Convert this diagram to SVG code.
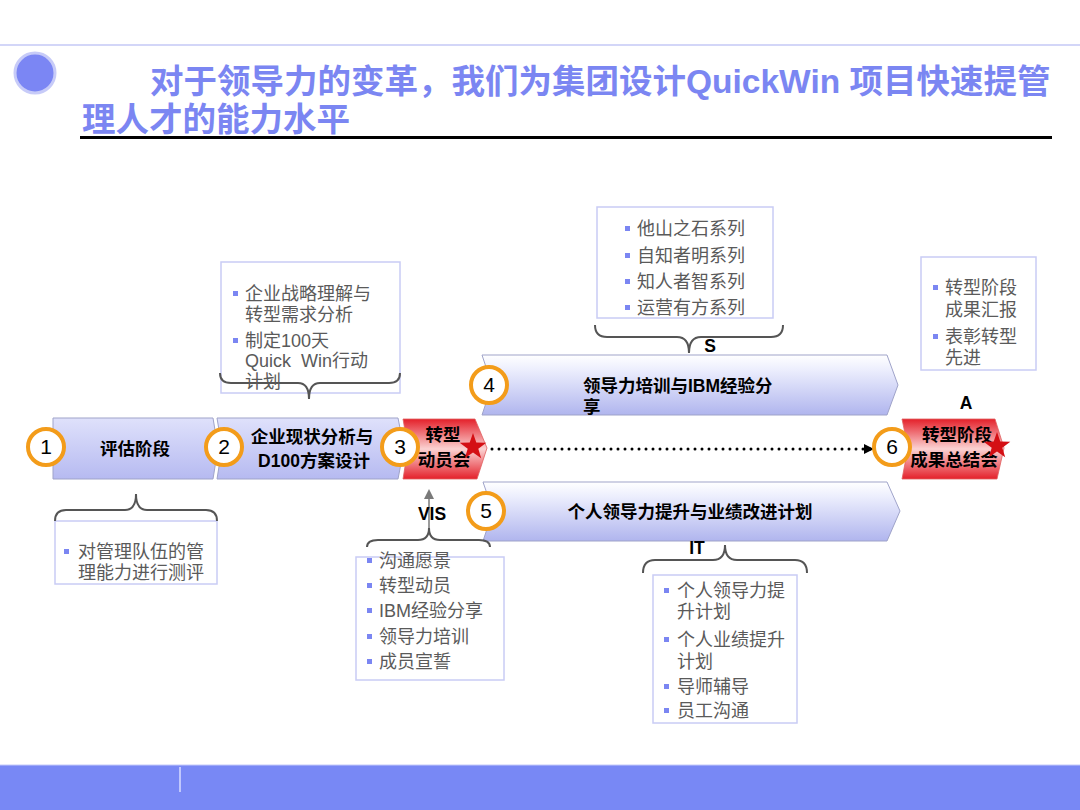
<svg xmlns="http://www.w3.org/2000/svg" width="1080" height="810" viewBox="0 0 1080 810">
<defs>
<linearGradient id="gLav" x1="0" y1="0" x2="0" y2="1">
<stop offset="0" stop-color="#dfe1fb"/><stop offset="1" stop-color="#b6baf1"/>
</linearGradient>
<linearGradient id="gLav2" x1="0" y1="0" x2="0" y2="1">
<stop offset="0" stop-color="#ffffff"/><stop offset="0.25" stop-color="#eceefd"/><stop offset="1" stop-color="#b0b5ee"/>
</linearGradient>
<linearGradient id="gRed" x1="0" y1="0" x2="0" y2="1">
<stop offset="0" stop-color="#e4202a"/><stop offset="0.5" stop-color="#fbd2d2"/><stop offset="1" stop-color="#e4202a"/>
</linearGradient>
<marker id="arrBlk" markerWidth="10" markerHeight="10" refX="9" refY="5" orient="auto" markerUnits="userSpaceOnUse">
<path d="M0,0 L10,5 L0,10 Z" fill="#000"/>
</marker>
<polygon id="star" points="0,-14 3.3,-4.5 13.3,-4.3 5.3,1.7 8.2,11.3 0,5.6 -8.2,11.3 -5.3,1.7 -13.3,-4.3 -3.3,-4.5"/>
</defs>
<style>
.title{font-family:"Liberation Sans","Noto Sans CJK SC",sans-serif;font-weight:bold;font-size:33.5px;fill:#7b86f2}
.lab{font-family:"Liberation Sans","Noto Sans CJK SC",sans-serif;font-weight:bold;font-size:17.5px;fill:#000}
.num{font-family:"Liberation Sans","Noto Sans CJK SC",sans-serif;font-size:21px;fill:#000;text-anchor:middle}
.circ{fill:#fff;stroke:#f39c1a;stroke-width:4}
.body{font-family:"Liberation Sans","Noto Sans CJK SC",sans-serif;font-size:18px;fill:#5a5a5a}
.box{fill:#fff;stroke:#c9ccf5;stroke-width:1.5}
.bul{fill:#7b86f2}
.brace{fill:none;stroke:#555;stroke-width:2}
.chev{stroke:#9fa3c9;stroke-width:1}
.mid{text-anchor:middle}
</style>

<!-- header -->
<line x1="0" y1="45" x2="1080" y2="45" stroke="#d3d6f8" stroke-width="2"/>
<circle cx="35" cy="73" r="20" fill="#7b86f4" stroke="#c7cbf8" stroke-width="3"/>
<text class="title" x="150" y="93">对于领导力的变革，我们为集团设计QuickWin 项目快速提管</text>
<text class="title" x="82" y="131">理人才的能力水平</text>
<line x1="80" y1="137.5" x2="1052" y2="137.5" stroke="#000" stroke-width="3"/>

<!-- footer -->
<rect x="0" y="765" width="1080" height="45" fill="#7888f5"/>
<line x1="0" y1="765" x2="1080" y2="765" stroke="#c3c9fa" stroke-width="1"/>
<line x1="180" y1="767" x2="180" y2="792" stroke="#d8dcff" stroke-width="1.5"/>

<!-- connectors -->
<g id="connectors">
<line x1="492" y1="449" x2="873" y2="449" stroke="#000" stroke-width="3" stroke-linecap="round" stroke-dasharray="0 7" marker-end="url(#arrBlk)"/>
<line x1="429" y1="528" x2="429" y2="497" stroke="#7a7a7a" stroke-width="1.5"/>
<polygon points="424,499 429,489 434,499" fill="#7a7a7a"/>
</g>

<!-- node 1 -->
<g id="node1">
<polygon class="chev" fill="url(#gLav)" points="53,418 213,418 218,448 213,479 53,479"/>
<text class="lab mid" x="135" y="455">评估阶段</text>
<circle class="circ" cx="46" cy="447" r="18"/>
<text class="num" x="46" y="454">1</text>
</g>

<!-- node 2 -->
<g id="node2">
<polygon class="chev" fill="url(#gLav)" points="217,418 398,418 404,448 398,479 217,479 222,448"/>
<text class="lab mid" x="312" y="443">企业现状分析与</text>
<text class="lab mid" x="314" y="467">D100方案设计</text>
<circle class="circ" cx="224" cy="447" r="18"/>
<text class="num" x="224" y="454">2</text>
</g>

<!-- node 3 -->
<g id="node3">
<polygon fill="url(#gRed)" stroke="#e06060" stroke-width="0.8" points="403,419 475,419 487,448 477,479 403,479 408,448"/>
<text class="lab mid" x="443" y="441">转型</text>
<text class="lab mid" x="444" y="466">动员会</text>
<circle class="circ" cx="400" cy="447" r="18"/>
<text class="num" x="400" y="454">3</text>
<use href="#star" x="473" y="447" fill="#d40f14"/>
</g>

<!-- node 4 -->
<g id="node4">
<polygon class="chev" fill="url(#gLav2)" points="482,355 887,355 898,385 887,415 482,415 492,385"/>
<text class="lab" x="583" y="392">领导力培训与IBM经验分</text>
<text class="lab" x="583" y="413">享</text>
<circle class="circ" cx="489" cy="385" r="18"/>
<text class="num" x="489" y="392">4</text>
</g>

<!-- node 5 -->
<g id="node5">
<polygon class="chev" fill="url(#gLav2)" points="483,482 887,482 900,511 887,541 483,541 493,511"/>
<text class="lab mid" x="690" y="518">个人领导力提升与业绩改进计划</text>
<circle class="circ" cx="486" cy="511" r="18"/>
<text class="num" x="486" y="518">5</text>
</g>

<!-- node 6 -->
<g id="node6">
<polygon fill="url(#gRed)" stroke="#e06060" stroke-width="0.8" points="902,419 995,419 1004,448 997,479 902,479 908,448"/>
<text class="lab mid" x="957" y="441">转型阶段</text>
<text class="lab mid" x="954" y="466">成果总结会</text>
<circle class="circ" cx="892" cy="447" r="18"/>
<text class="num" x="892" y="454">6</text>
<use href="#star" x="997" y="446" fill="#d40f14"/>
</g>

<!-- callout under 1 -->
<g id="callout1">
<rect class="box" x="55" y="521" width="162" height="63"/>
<path class="brace" d="M55,521 Q55,510 66,510 L125,510 Q136,510 136,494 Q136,510 147,510 L206,510 Q217,510 217,521"/>
<rect class="bul" x="64" y="549" width="5" height="5"/>
<text class="body" x="78" y="558">对管理队伍的管</text>
<text class="body" x="78" y="579">理能力进行测评</text>
</g>

<!-- callout above 2 -->
<g id="callout2">
<rect class="box" x="221" y="262" width="179" height="131"/>
<path class="brace" d="M220,373 Q220,383 231,383 L298,383 Q309,383 309,399 Q309,383 320,383 L389,383 Q400,383 400,373"/>
<rect class="bul" x="233" y="291" width="5" height="5"/>
<text class="body" x="245" y="300">企业战略理解与</text>
<text class="body" x="245" y="321">转型需求分析</text>
<rect class="bul" x="233" y="338" width="5" height="5"/>
<text class="body" x="245" y="347">制定100天</text>
<text class="body" x="245" y="367" xml:space="preserve">Quick  Win行动</text>
<text class="body" x="245" y="388">计划</text>
</g>

<!-- callout S -->
<g id="calloutS">
<rect class="box" x="597" y="207" width="176" height="111"/>
<path class="brace" d="M595,325 Q595,337 607,337 L677,337 Q689,337 689,353 Q689,337 701,337 L771,337 Q783,337 783,325"/>
<text class="lab mid" x="710" y="352">S</text>
<rect class="bul" x="625" y="226" width="5" height="5"/>
<text class="body" x="637" y="235">他山之石系列</text>
<rect class="bul" x="625" y="253" width="5" height="5"/>
<text class="body" x="637" y="262">自知者明系列</text>
<rect class="bul" x="625" y="279" width="5" height="5"/>
<text class="body" x="637" y="288">知人者智系列</text>
<rect class="bul" x="625" y="305" width="5" height="5"/>
<text class="body" x="637" y="314">运营有方系列</text>
</g>

<!-- callout A -->
<g id="calloutA">
<rect class="box" x="921" y="257" width="115" height="113"/>
<rect class="bul" x="933" y="285" width="5" height="5"/>
<text class="body" x="945" y="294">转型阶段</text>
<text class="body" x="945" y="316">成果汇报</text>
<rect class="bul" x="933" y="334" width="5" height="5"/>
<text class="body" x="945" y="343">表彰转型</text>
<text class="body" x="945" y="364">先进</text>
<text class="lab mid" x="966" y="409">A</text>
</g>

<!-- callout VIS -->
<g id="calloutVIS">
<rect class="box" x="356" y="557" width="148" height="123"/>
<path class="brace" d="M367,547 Q367,540 378,540 L418,540 Q429,540 429,528 Q429,540 440,540 L479,540 Q490,540 490,547"/>
<text class="lab mid" x="432" y="520">VIS</text>
<rect class="bul" x="367" y="558" width="5" height="5"/>
<text class="body" x="379" y="567">沟通愿景</text>
<rect class="bul" x="367" y="583" width="5" height="5"/>
<text class="body" x="379" y="592">转型动员</text>
<rect class="bul" x="367" y="608" width="5" height="5"/>
<text class="body" x="379" y="617">IBM经验分享</text>
<rect class="bul" x="367" y="634" width="5" height="5"/>
<text class="body" x="379" y="643">领导力培训</text>
<rect class="bul" x="367" y="659" width="5" height="5"/>
<text class="body" x="379" y="668">成员宣誓</text>
</g>

<!-- callout IT -->
<g id="calloutIT">
<rect class="box" x="653" y="575" width="144" height="148"/>
<path class="brace" d="M643,573 Q643,560 655,560 L713,560 Q725,560 725,545 Q725,560 737,560 L795,560 Q807,560 807,573"/>
<text class="lab mid" x="697" y="554">IT</text>
<rect class="bul" x="664" y="588" width="5" height="5"/>
<text class="body" x="677" y="597">个人领导力提</text>
<text class="body" x="677" y="618">升计划</text>
<rect class="bul" x="664" y="637" width="5" height="5"/>
<text class="body" x="677" y="646">个人业绩提升</text>
<text class="body" x="677" y="668">计划</text>
<rect class="bul" x="664" y="684" width="5" height="5"/>
<text class="body" x="677" y="693">导师辅导</text>
<rect class="bul" x="664" y="708" width="5" height="5"/>
<text class="body" x="677" y="717">员工沟通</text>
</g>
</svg>
